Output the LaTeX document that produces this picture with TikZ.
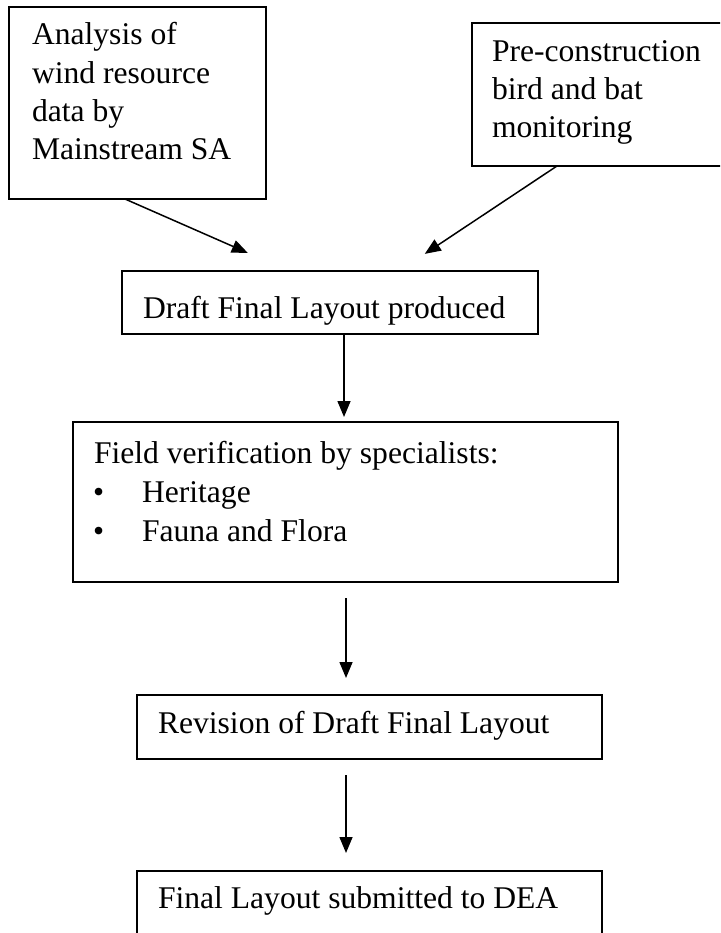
\documentclass[tikz,border=0pt]{standalone}
\usepackage{fontspec}
\setmainfont{Liberation Serif}
\usetikzlibrary{arrows.meta}
\begin{document}
\begin{tikzpicture}[x=1pt,y=-1pt,
  box/.style={draw, line width=1.6pt, rectangle, inner sep=0pt, outer sep=0pt, anchor=north west},
  txt/.style={inner sep=0pt, outer sep=0pt, anchor=base west, font=\fontsize{31.6}{38}\selectfont},
  arr/.style={line width=1.5pt, -{Triangle[length=16pt,width=13pt]}}]
\useasboundingbox (0,0) rectangle (720,933);
\clip (0,0) rectangle (720,933);
\fill[white] (0,0) rectangle (720,933);
% boxes
\node[box, minimum width=257pt, minimum height=192pt] (b1) at (9,7) {};
\node[box, minimum width=260pt, minimum height=143pt] (b2) at (472,23) {};
\node[box, minimum width=416pt, minimum height=63pt] (b3) at (122,271) {};
\node[box, minimum width=545pt, minimum height=160pt] (b4) at (73,422) {};
\node[box, minimum width=465pt, minimum height=64pt] (b5) at (137,695) {};
\node[box, minimum width=465pt, minimum height=90pt] (b6) at (137,871) {};
% texts
\node[txt] (t1a) at (32,45) {Analysis of};
\node[txt] (t1b) at (32,84) {wind resource};
\node[txt] (t1c) at (32,122) {data by};
\node[txt] (t1d) at (32,160) {Mainstream SA};
\node[txt] (t2a) at (492,62) {Pre-construction};
\node[txt] (t2b) at (492,100) {bird and bat};
\node[txt] (t2c) at (492,138) {monitoring};
\node[txt] (t3) at (143,318) {Draft Final Layout produced};
\node[txt] (t4a) at (94,463) {Field verification by specialists:};
\node[txt] (t4b) at (93,502) {•};
\node[txt] (t4c) at (142,502) {Heritage};
\node[txt] (t4d) at (93,541) {•};
\node[txt] (t4e) at (142,541) {Fauna and Flora};
\node[txt] (t5) at (158,733) {Revision of Draft Final Layout};
\node[txt] (t6) at (158,908) {Final Layout submitted to DEA};
% connectors
\draw[arr, shorten >=45pt] ([xshift=116pt]b1.south west) -- ([xshift=167pt]b3.north west);
\draw[arr, shorten >=31pt] ([xshift=85pt]b2.south west) -- ([xshift=277pt]b3.north west);
\draw[arr, shorten >=5pt] ([xshift=222pt]b3.south west) -- ([xshift=271pt]b4.north west);
\draw[arr, shorten <=16pt, shorten >=17pt] ([xshift=273pt]b4.south west) -- ([xshift=209pt]b5.north west);
\draw[arr, shorten <=16pt, shorten >=18pt] ([xshift=209pt]b5.south west) -- ([xshift=209pt]b6.north west);
\end{tikzpicture}
\end{document}
